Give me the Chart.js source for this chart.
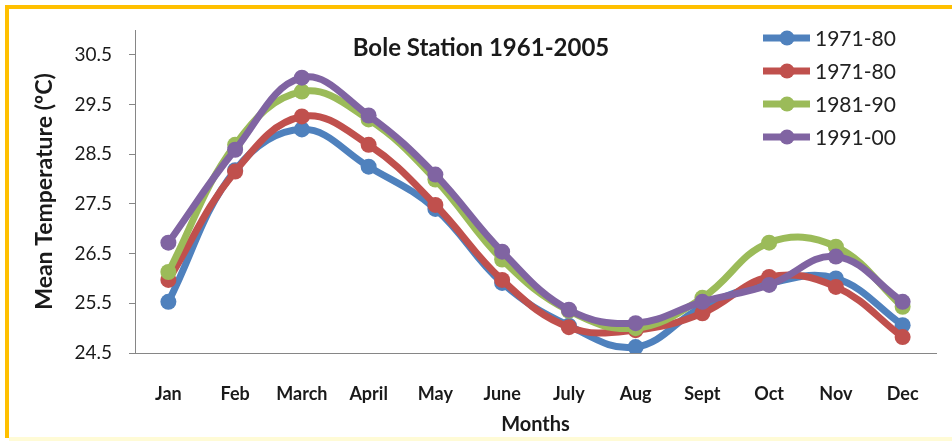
<!DOCTYPE html>
<html>
<head>
<meta charset="utf-8">
<script src="https://cdn.jsdelivr.net/npm/chart.js@4/dist/chart.umd.min.js"></script>
<style>
  body { margin: 0; background: #fff; }
  #frame {
    position: absolute; left: 5px; top: 5px; width: 947px; height: 433px;
    border-left: 4px solid #FFC000; border-top: 4px solid #FFC000;
    background: #fff; box-sizing: border-box;
  }
  #strip { position: absolute; left: 9px; top: 437px; width: 943px; height: 4px; background: #FFFBD6; }
  #wrap { position: absolute; left: 0; top: 0; width: 952px; height: 441px; }
</style>
</head>
<body>
<div id="frame"></div>
<div id="strip"></div>
<div id="wrap"><canvas id="chart"></canvas></div>
<script>
const months = ['Jan', 'Feb', 'March', 'April', 'May', 'June', 'July', 'Aug', 'Sept', 'Oct', 'Nov', 'Dec'];
const seriesNames = ['1971-80', '1971-80', '1981-90', '1991-00'];
const temp7180a = [25.53, 28.18, 29.0, 28.25, 27.40, 25.91, 25.05, 24.62, 25.43, 25.90, 26.00, 25.06];
const temp7180b = [25.97, 28.15, 29.26, 28.69, 27.48, 25.97, 25.02, 24.96, 25.30, 26.03, 25.83, 24.82];
const temp8190 = [26.13, 28.69, 29.76, 29.20, 27.99, 26.38, 25.35, 25.00, 25.61, 26.72, 26.64, 25.43];
const temp9100 = [26.72, 28.59, 30.04, 29.28, 28.09, 26.54, 25.37, 25.10, 25.53, 25.87, 26.44, 25.53];
const yTicks = [24.5, 25.5, 26.5, 27.5, 28.5, 29.5, 30.5];

const colors = ['#4F81BD', '#C0504D', '#9BBB59', '#8064A2'];
const allData = [temp7180a, temp7180b, temp8190, temp9100];

const datasets = allData.map((d, i) => ({
  label: seriesNames[i],
  data: d,
  borderColor: colors[i],
  backgroundColor: colors[i],
  pointBackgroundColor: colors[i],
  pointBorderWidth: 0,
  pointRadius: 8,
  borderWidth: 7,
  tension: 0.4,
  order: 4 - i   // later series drawn on top, like the original
}));

// title + legend sit inside the plot area
const overlay = {
  id: 'overlay',
  afterDraw(chart) {
    const ctx = chart.ctx;
    ctx.save();
    ctx.fillStyle = '#1a1a1a';
    ctx.font = 'bold 24px Lato';
    ctx.textAlign = 'center';
    ctx.textBaseline = 'middle';
    ctx.fillText('Bole Station 1961-2005', 481, 48);

    ctx.font = '21px Lato';
    ctx.textAlign = 'left';
    seriesNames.forEach((name, i) => {
      const y = 38 + i * 33;
      ctx.strokeStyle = colors[i];
      ctx.lineWidth = 7;
      ctx.beginPath();
      ctx.moveTo(763, y);
      ctx.lineTo(810, y);
      ctx.stroke();
      ctx.fillStyle = colors[i];
      ctx.beginPath();
      ctx.arc(787, y, 7.5, 0, Math.PI * 2);
      ctx.fill();
      ctx.fillStyle = '#222';
      ctx.fillText(name, 815, y + 1);
    });
    ctx.restore();
  }
};

new Chart(document.getElementById('chart'), {
  type: 'line',
  data: { labels: months, datasets: datasets },
  options: {
    responsive: true,
    maintainAspectRatio: false,
    animation: false,
    layout: { padding: { top: 30, right: 16, left: 0, bottom: 0 } },
    plugins: {
      legend: { display: false },
      tooltip: { enabled: false }
    },
    scales: {
      x: {
        offset: true,
        grid: { display: true, drawOnChartArea: false, drawTicks: false, offset: false, color: '#868686' },
        border: { color: '#868686', width: 1 },
        ticks: { color: '#1a1a1a', font: { family: 'Lato', size: 18, weight: 'bold' }, padding: 30 },
        title: {
          display: true, text: 'Months', color: '#1a1a1a',
          font: { family: 'Lato', size: 20, weight: 'bold' }, padding: { top: 0, bottom: 4 }
        },
        afterFit(scale) { scale.height = 88; }
      },
      y: {
        min: 24.5,
        max: 31,
        afterBuildTicks(scale) { scale.ticks = yTicks.map(v => ({ value: v })); },
        grid: { display: true, drawOnChartArea: false, tickLength: 6, color: '#868686' },
        border: { color: '#868686', width: 1 },
        ticks: {
          color: '#1a1a1a', font: { family: 'Lato', size: 19 }, padding: 17,
          callback: v => v.toFixed(1)
        },
        title: {
          display: true, text: 'Mean Temperature (ºC)', color: '#1a1a1a',
          font: { family: 'Lato', size: 23, weight: 'bold' }, padding: { top: 31, bottom: 0 }
        },
        afterFit(scale) { scale.width = 135; }
      }
    }
  },
  plugins: [overlay]
});
</script>
</body>
</html>
